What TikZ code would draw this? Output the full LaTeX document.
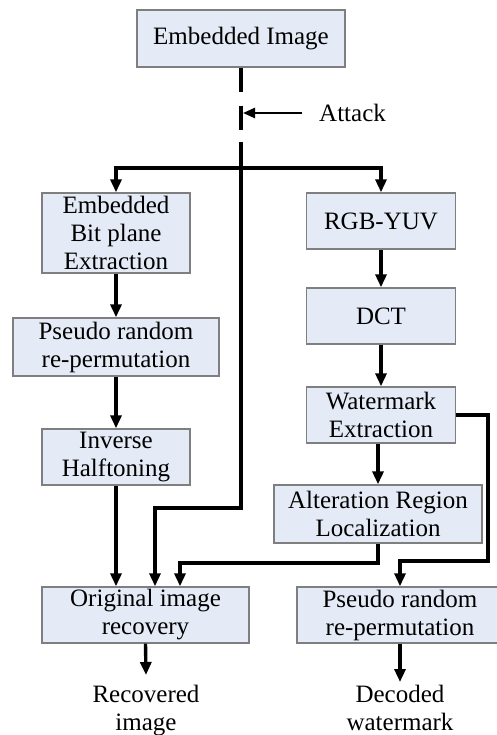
\documentclass[tikz,border=0pt]{standalone}
\usepackage{fontspec}
\setmainfont{Liberation Serif}
\usetikzlibrary{arrows.meta}
\definecolor{boxfill}{HTML}{E4EBF6}
\definecolor{boxline}{HTML}{7F7F7F}
\begin{document}
\begin{tikzpicture}[x=1pt,y=-1pt,
  font=\fontsize{25}{28}\selectfont,
  block/.style={draw=boxline,line width=1.4pt,fill=boxfill,align=center,inner sep=0pt},
  wire/.style={line width=3.4pt},
  arr/.style={wire,-{Triangle[length=13pt,width=11pt]}},
  label/.style={align=center,inner sep=0pt}]
\useasboundingbox (0,0) rectangle (497,735);

% processing blocks
\node[block,minimum width=208,minimum height=57] (emb) at (241,38.5) {Embedded Image};
\node[block,minimum width=148,minimum height=80] (bit) at (116,233) {Embedded\\Bit plane\\Extraction};
\node[block,minimum width=206,minimum height=58] (prl) at (116,347) {Pseudo random\\re-permutation};
\node[block,minimum width=148,minimum height=56] (inv) at (116,457) {Inverse\\Halftoning};
\node[block,minimum width=207,minimum height=56] (orig) at (145.5,615) {Original image\\recovery};
\node[block,minimum width=149,minimum height=56] (rgb) at (381,221) {RGB-YUV};
\node[block,minimum width=149,minimum height=56] (dct) at (381,316) {DCT};
\node[block,minimum width=149,minimum height=56] (wm) at (381,415) {Watermark\\Extraction};
\node[block,minimum width=208,minimum height=58] (alt) at (378,514) {Alteration Region\\Localization};
\node[block,minimum width=206,minimum height=56] (prr) at (400,615) {Pseudo random\\re-permutation};

% outputs and attack label
\node[label,anchor=north] (rec) at (146,685) {Recovered\\image};
\node[label,anchor=north] (dec) at (400,685) {Decoded\\watermark};
\node[label,anchor=west] (att) at (319,113) {Attack};

% attacked channel
\coordinate (cut) at (241,142);
\coordinate (split) at (241,168);
\coordinate (hit) at (243,113);
\draw[wire,dash pattern=on 24pt off 14pt] (emb.south) -- (cut);
\draw[wire] (cut) -- (split);
\draw[line width=2.4pt,-{Triangle[length=12pt,width=10pt]}] (att.west) ++(-17,0) -- (hit);

% branches
\draw[arr] (split) -| (bit.north);
\draw[arr] (split) -| (rgb.north);
\draw[arr] (split) -- (241,508) -| ([xshift=9.5pt]orig.north);

% left chain
\draw[arr] (bit) -- (prl);
\draw[arr] (prl) -- (inv);
\draw[arr] (inv) -- (inv |- orig.north);

% right chain
\draw[arr] (rgb) -- (dct);
\draw[arr] (dct) -- (wm);
\draw[arr] (wm.south -| alt.north) -- (alt.north);
\draw[arr] (alt.south) -- (378,563) -| ([xshift=34.5pt]orig.north);
\draw[arr] (wm.east) -- (488,415) -- (488,561) -| (prr.north);

% results
\draw[arr] (orig.south) -- ([yshift=10pt]rec.north);
\draw[arr] (prr.south) -- ([yshift=3pt]dec.north);
\end{tikzpicture}
\end{document}
